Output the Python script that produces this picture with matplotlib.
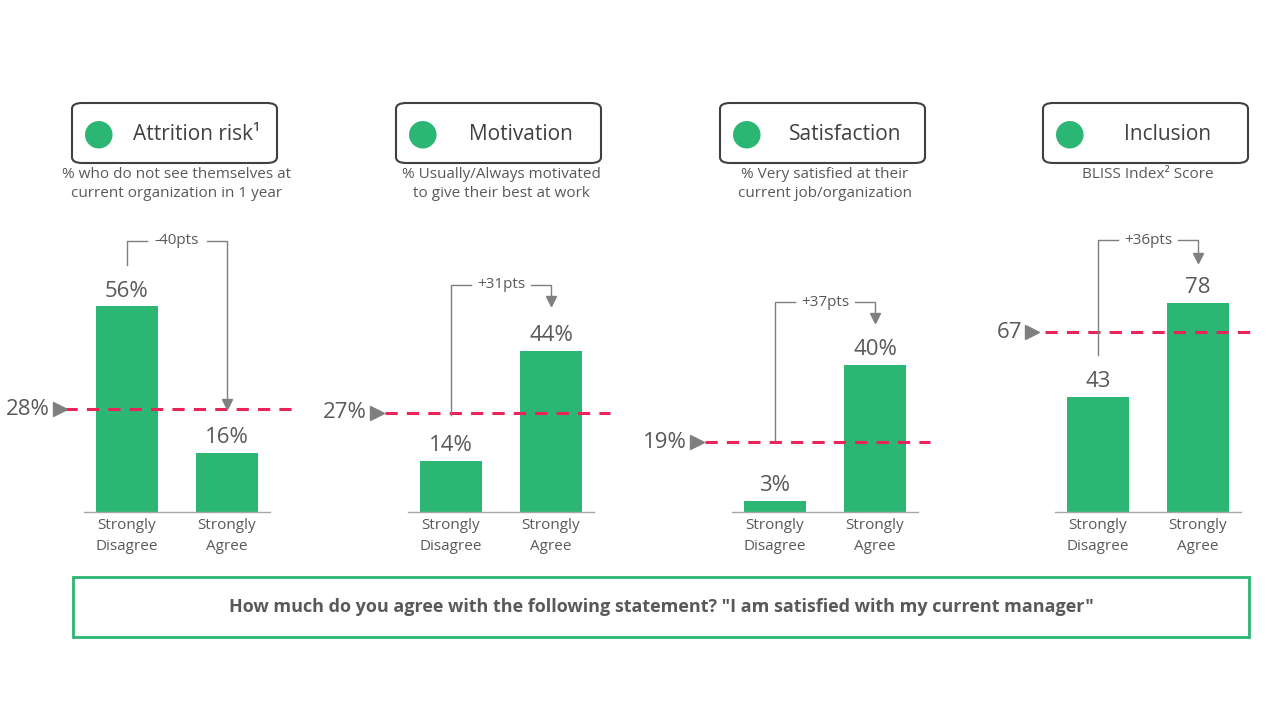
import matplotlib
matplotlib.use("Agg")
import matplotlib.pyplot as plt
from matplotlib.patches import FancyBboxPatch

titles = ["Attrition risk\u00b9", "Motivation", "Satisfaction", "Inclusion"]
subtitles = ["% who do not see themselves at\ncurrent organization in 1 year",
             "% Usually/Always motivated\nto give their best at work",
             "% Very satisfied at their\ncurrent job/organization",
             "BLISS Index\u00b2 Score"]
categories = ["Strongly\nDisagree", "Strongly\nAgree"]
values = [[56, 16], [14, 44], [3, 40], [43, 78]]
averages = [28, 27, 19, 67]
diff_labels = ["-40pts", "+31pts", "+37pts", "+36pts"]
suffix = ["%", "%", "%", ""]
question = 'How much do you agree with the following statement? "I am satisfied with my current manager"'

GREEN = "#2BB673"; RED = "#E8245A"; GRAY = "#595959"; LG = "#7F7F7F"
W, H = 1280, 720
fig = plt.figure(figsize=(12.8, 7.2), dpi=100)
plt.rcParams['font.family'] = ['Open Sans', 'DejaVu Sans']

def fx(x): return x / W
def fy(y): return 1 - y / H

centers = [177, 501, 825, 1148]
scales = [3.67, 3.67, 3.67, 2.68]   # px per unit
base, top = 512, 230
bracket_top = [241, 285, 302, 240]
bracket_start = [265, 415, 440, 355]
bracket_end = [408, 305, 322, 262]
dash_x = [(-0.62, 1.66), (-0.66, 1.59), (-0.70, 1.55), (-0.53, 1.52)]
tri_x = [-0.67, -0.74, -0.78, -0.66]

for i in range(4):
    c = centers[i]
    ax = fig.add_axes([fx(c - 150), fy(base), 300 / W, (base - top) / H])
    ymax = (base - top) / scales[i]
    ax.set_xlim(-1, 2); ax.set_ylim(0, ymax); ax.axis('off')
    for j, v in enumerate(values[i]):
        ax.bar(j, v, width=0.62, color=GREEN)
        ax.text(j, v + 4 / scales[i] * 1.2, f"{v}{suffix[i]}", ha='center', va='bottom',
                fontsize=16, color=GRAY)
        ax.text(j, -6 / scales[i], categories[j], ha='center', va='top', fontsize=11,
                color=GRAY, linespacing=1.5, clip_on=False)
    ax.plot([-0.43, 1.43], [0, 0], color="#A6A6A6", lw=1, clip_on=False)
    a = averages[i]
    ax.plot(list(dash_x[i]), [a, a], color=RED, lw=2.2, ls=(0, (4, 3)), clip_on=False)
    ax.plot([tri_x[i]], [a], marker='>', color=LG, ms=10, clip_on=False)
    ax.text(tri_x[i] - 0.1, a, f"{a}{suffix[i]}", ha='right', va='center', fontsize=16,
            color=GRAY, clip_on=False)
    s = scales[i]
    y0 = (base - bracket_start[i]) / s; yt = (base - bracket_top[i]) / s
    y1 = (base - bracket_end[i]) / s
    ax.plot([0, 0, 0.2], [y0, yt, yt], color=LG, lw=1, clip_on=False)
    ax.plot([0.8, 1, 1], [yt, yt, y1 + 6 / s], color=LG, lw=1, clip_on=False)
    ax.plot([1], [y1 + 4 / s], marker='v', color=LG, ms=7, clip_on=False)
    ax.text(0.5, yt, diff_labels[i], ha='center', va='center', fontsize=11, color=GRAY,
            clip_on=False)

    bx0, bx1 = c - 105, c + 100
    fig.patches.append(FancyBboxPatch((fx(bx0), fy(163)), (bx1 - bx0) / W, 60 / H,
                                      boxstyle="round,pad=0,rounding_size=0.008",
                                      transform=fig.transFigure, fill=False,
                                      ec="#404040", lw=1.5))
    fig.text(fx(c - 78), fy(134), "\u25cf", fontsize=26, color=GREEN, ha='center', va='center')
    fig.text(fx(c + 20), fy(135), titles[i], fontsize=15, color="#404040", ha='center',
             va='center')
    fig.text(fx(c), fy(167), subtitles[i], fontsize=11, color=GRAY, ha='center',
             va='top', linespacing=1.4)

fig.patches.append(FancyBboxPatch((fx(73), fy(637)), 1176 / W, 60 / H,
                                  boxstyle="square,pad=0", transform=fig.transFigure,
                                  fill=False, ec=GREEN, lw=2))
fig.text(fx(661), fy(607), question, fontsize=13, fontweight='bold', color=GRAY,
         ha='center', va='center')
fig.savefig("out.png", dpi=100, facecolor='white')
